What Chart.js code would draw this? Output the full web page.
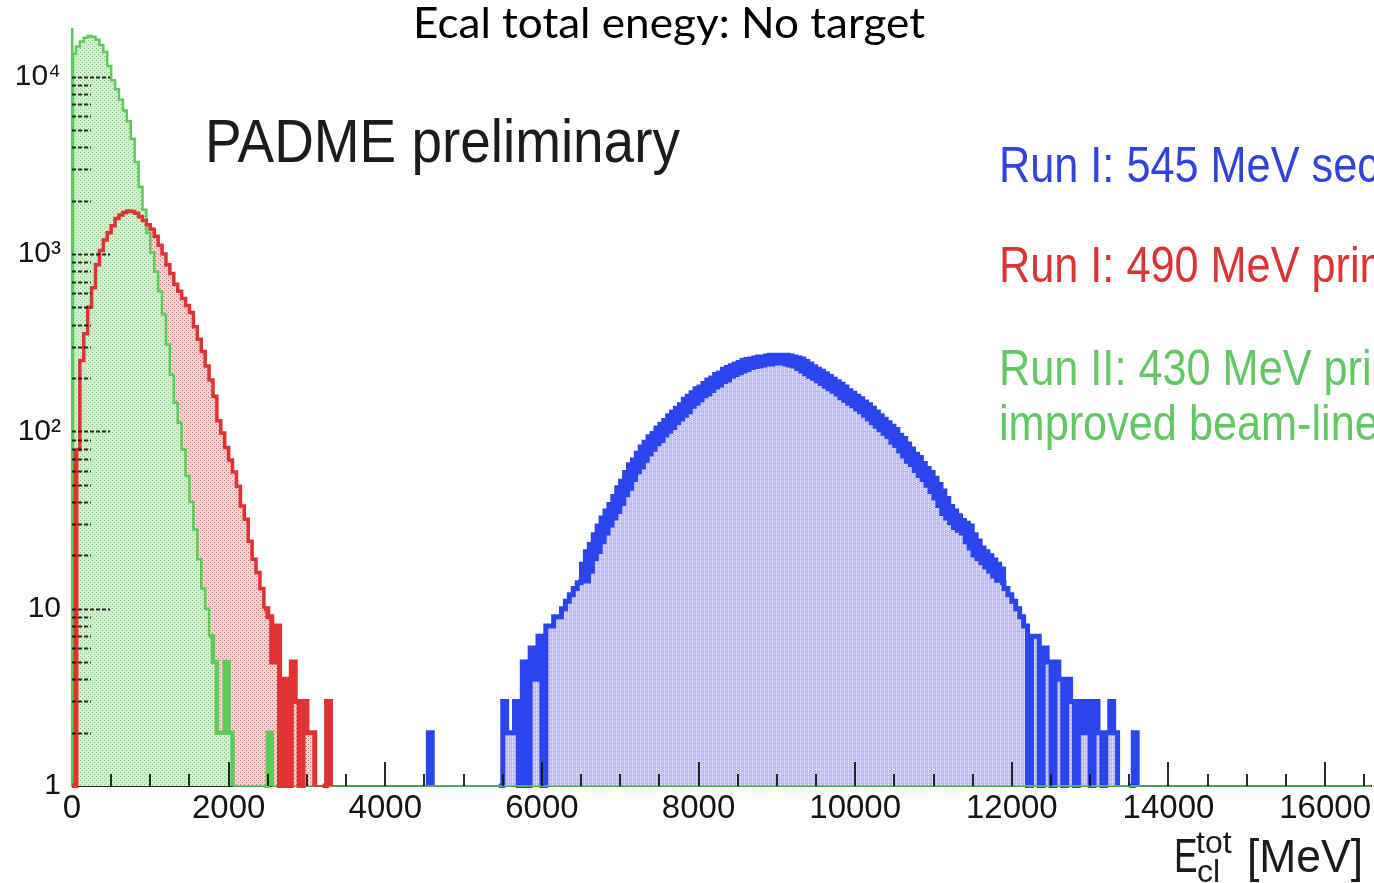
<!DOCTYPE html>
<html>
<head>
<meta charset="utf-8">
<script src="https://cdn.jsdelivr.net/npm/chart.js@4.4.1/dist/chart.umd.min.js"></script>
<style>
  html, body { margin: 0; padding: 0; background: #ffffff; }
  #wrap { width: 1374px; height: 883px; position: relative; }
  canvas { display: block; }
</style>
</head>
<body>
<div id="wrap"><canvas id="c" width="1374" height="883"></canvas></div>
<script>
// ---------------- data ----------------
const BIN_WIDTH = 50;          // MeV per bin
const X_MIN = 0, X_MAX = 16590;
const Y_MIN = 1, Y_MAX = 18600;

// Run II: 430 MeV primary (green), bins start at 0 MeV
const greenStart = 0;
const greenCounts = [
  13500,14800,15800,16600,17000,16800,16200,15100,13800,11500,
  9550,8510,7410,6460,5620,4470,3310,2400,1780,1320,
  1020,794,617,457,309,209,145,112,79,56,
  40,28,19,13,10,7,5,2,2,5,
  2,0,0,0,0,0,0,0,0,0,
  2
];

// Run I: 490 MeV primary (red), bins start at 0 MeV
const redStart = 0;
const redCounts = [
  0,79,251,355,501,646,871,1047,1202,1318,
  1445,1585,1660,1718,1750,1738,1700,1622,1549,1462,
  1380,1259,1122,1000,871,776,676,617,562,513,
  468,389,331,282,234,195,158,115,98,81,
  69,59,49,38,32,24,19,16,13,10,
  9,5,8,0,4,0,5,3,0,3,
  2,2,0,0,0,3
];

// Run I: 545 MeV secondary (blue), bins start at 4550 MeV
const blueStart = 4550;
const blueCounts = [
  2,
  0,0,0,0,0,0,0,0,0,0,0,0,0,0,0,0,0,0,
  3,2,2,3,0,5,0,6,4,7,
  0,8,8,9,9,10,11,12,13,14,
  15,17,20,22,25,28,31,34,37,41,
  46,50,56,62,66,72,78,83,89,93,
  100,105,110,117,123,129,135,145,151,158,
  166,170,178,186,191,200,204,214,219,224,
  229,234,240,243,245,248,251,251,254,257,
  257,257,254,251,248,245,237,229,221,214,
  209,202,195,188,182,176,170,162,157,151,
  146,140,135,129,123,117,112,107,102,98,
  91,87,81,76,71,68,63,59,56,52,
  48,44,40,36,34,32,30,29,28,25,
  23,21,20,19,18,17,16,14,13,12,
  11,10,9,8,0,7,7,0,6,5,
  0,5,4,0,4,3,0,3,2,3,
  0,3,2,0,2,3,2,0,0,0,
  0,2
];

const xTickValues = [0,2000,4000,6000,8000,10000,12000,14000,16000];
const xTickLabels = ['0','2000','4000','6000','8000','10000','12000','14000','16000'];
const yTickValues = [1,10,100,1000,10000];
const yTickLabels = ['1','10','10²','10³','10⁴'];

const titleText = 'Ecal total enegy: No target';
const noteText = 'PADME preliminary';
const legendLabels = ['Run I: 545 MeV sec', 'Run I: 490 MeV prim', 'Run II: 430 MeV prim', 'improved beam-line'];
const legendColors = ['#3043dc', '#dc3434', '#62c962', '#62c962'];

// ---------------- helpers ----------------
function histPoints(start, counts, extendTo) {
  const pts = [{x: start, y: Y_MIN}];
  counts.forEach((c, i) => pts.push({x: start + i * BIN_WIDTH, y: Math.max(c, Y_MIN)}));
  const end = start + counts.length * BIN_WIDTH;
  pts.push({x: end, y: Y_MIN});
  if (extendTo !== undefined) pts.push({x: extendTo, y: Y_MIN});
  return pts;
}

const canvas = document.getElementById('c');
const mainCtx = canvas.getContext('2d');
function makePattern(bg, dot, dots) {
  const t = document.createElement('canvas');
  t.width = 4; t.height = 4;
  const g = t.getContext('2d');
  g.fillStyle = bg; g.fillRect(0, 0, 4, 4);
  g.fillStyle = dot;
  dots.forEach(p => g.fillRect(p[0], p[1], 1, 1));
  return mainCtx.createPattern(t, 'repeat');
}
const greenFill = makePattern('#d0efcc', '#7ccf78', [[0,0],[2,2]]);
const redFill = makePattern('#f7d0d0', '#e06666', [[0,0],[2,2]]);
const blueFill = makePattern('#bdb9f1', '#f2f2ff', [[0,0],[0,2],[2,1]]);

const GREEN = '#5ccb5a', RED = '#e03232', BLUE = '#2b45ee';
const CLIP = {left: 0, top: 0, right: 0, bottom: 2};

const greenPts = histPoints(greenStart, greenCounts, X_MAX);
const redPts = histPoints(redStart, redCounts);
const bluePts = histPoints(blueStart, blueCounts);

function drawText(ctx, str, x, baseline, size, family, color, sx, sy) {
  ctx.save();
  ctx.font = size + 'px ' + family;
  ctx.fillStyle = color;
  ctx.textAlign = 'left';
  ctx.textBaseline = 'alphabetic';
  ctx.translate(x, baseline);
  ctx.scale(sx, sy);
  ctx.fillText(str, 0, 0);
  ctx.restore();
}
function fitScale(ctx, str, size, family, width) {
  ctx.save();
  ctx.font = size + 'px ' + family;
  const w = ctx.measureText(str).width;
  ctx.restore();
  return width / w;
}

// inward ROOT-style ticks
const tickPlugin = {
  id: 'rootTicks',
  afterDatasetsDraw(chart) {
    const ctx = chart.ctx;
    const xs = chart.scales.x, ys = chart.scales.y;
    const area = chart.chartArea;
    ctx.save();
    ctx.beginPath();
    ctx.rect(area.left, area.top - 2, area.right - area.left, area.bottom - area.top + 4);
    ctx.clip();
    ctx.strokeStyle = 'rgba(20,20,20,0.9)';
    ctx.lineWidth = 2;
    ctx.setLineDash([4, 2]);
    for (let k = 0; k <= 4; k++) {
      for (let m = 1; m <= 9; m++) {
        const v = m * Math.pow(10, k);
        if (v > Y_MAX || v <= Y_MIN) continue;
        const y = Math.round(ys.getPixelForValue(v)) + 0.5;
        const len = m === 1 ? 38 : 19;
        ctx.beginPath();
        ctx.moveTo(area.left, y);
        ctx.lineTo(area.left + len, y);
        ctx.stroke();
      }
    }
    ctx.setLineDash([]);
    for (let v = 500; v <= X_MAX; v += 500) {
      const x = Math.round(xs.getPixelForValue(v));
      const len = v % 2000 === 0 ? 24 : 12;
      ctx.beginPath();
      ctx.moveTo(x, area.bottom);
      ctx.lineTo(x, area.bottom - len);
      ctx.stroke();
    }
    ctx.restore();
  }
};

const textPlugin = {
  id: 'texts',
  afterDraw(chart) {
    const ctx = chart.ctx;
    const ts = fitScale(ctx, titleText, 42, 'Lato', 512);
    drawText(ctx, titleText, 413, 38, 42, 'Lato', '#000000', ts, 1);
    const fam = '"Liberation Sans", Arial, sans-serif';
    drawText(ctx, noteText, 205, 162, 61, fam, '#1c1c1c', 0.9, 1);
    const baselines = [182, 282, 385, 440];
    legendLabels.forEach((s, i) => {
      drawText(ctx, s, 999, baselines[i], 50, fam, legendColors[i], 0.865, 1);
    });
    drawText(ctx, 'E', 1174, 872, 49, fam, '#1c1c1c', 0.72, 1);
    drawText(ctx, 'tot', 1196, 853, 32, fam, '#1c1c1c', 1, 1);
    drawText(ctx, 'cl', 1197, 882, 32, fam, '#1c1c1c', 1, 1);
    const ms = fitScale(ctx, '[MeV]', 46, fam, 116);
    drawText(ctx, '[MeV]', 1247, 872, 46, fam, '#1c1c1c', ms, 1);
  }
};

// thicker outline where the original histogram is a dense noisy band
const segWidth = (wide, low, lowLimit) => (c) => {
  const a = c.p0.parsed.y, b = c.p1.parsed.y;
  if (a <= Y_MIN && b <= Y_MIN) return 1.5;
  return a >= lowLimit ? wide : low;
};

new Chart(canvas, {
  type: 'line',
  data: {
    datasets: [
      { label: 'Run I: 490 MeV primary line', data: redPts, order: 0, fill: false,
        borderColor: RED, borderWidth: 3.5, segment: { borderWidth: segWidth(3.5, 5, 12) },
        stepped: true, pointRadius: 0, clip: CLIP },
      { label: 'Run II: 430 MeV primary line', data: greenPts, order: 1, fill: false,
        borderColor: GREEN, borderWidth: 2.5, segment: { borderWidth: segWidth(2.5, 4.5, 8) },
        stepped: true, pointRadius: 0, clip: CLIP },
      { label: 'Run II: 430 MeV primary fill', data: greenPts, order: 2, fill: 'start',
        backgroundColor: greenFill, borderColor: 'rgba(0,0,0,0)', borderWidth: 0,
        stepped: true, pointRadius: 0, clip: CLIP },
      { label: 'Run I: 490 MeV primary fill', data: redPts, order: 3, fill: 'start',
        backgroundColor: redFill, borderColor: 'rgba(0,0,0,0)', borderWidth: 0,
        stepped: true, pointRadius: 0, clip: CLIP },
      { label: 'Run I: 545 MeV secondary', data: bluePts, order: 4, fill: 'start',
        backgroundColor: blueFill, borderColor: BLUE, borderWidth: 3,
        segment: { borderWidth: segWidth(12, 5, 15) },
        stepped: true, pointRadius: 0, clip: CLIP }
    ]
  },
  options: {
    responsive: false,
    devicePixelRatio: 1,
    animation: false,
    events: [],
    layout: { padding: { top: 8, right: 0, left: 0, bottom: 0 } },
    plugins: { legend: { display: false }, tooltip: { enabled: false }, title: { display: false } },
    scales: {
      x: {
        type: 'linear', min: X_MIN, max: X_MAX,
        grid: { display: false, drawTicks: false },
        border: { display: true, color: '#222222', width: 2 },
        afterBuildTicks: (s) => { s.ticks = xTickValues.map(v => ({ value: v })); },
        afterFit: (s) => { s.height = 97; },
        ticks: {
          autoSkip: false, maxRotation: 0, padding: 3, color: '#151515',
          font: { family: '"Liberation Sans", Arial, sans-serif', size: 33 },
          callback: (v) => { const i = xTickValues.indexOf(v); return i >= 0 ? xTickLabels[i] : ''; }
        }
      },
      y: {
        type: 'logarithmic', min: Y_MIN, max: Y_MAX,
        grid: { display: false, drawTicks: false },
        border: { display: true, color: GREEN, width: 2.5 },
        afterBuildTicks: (s) => { s.ticks = yTickValues.map(v => ({ value: v })); },
        afterFit: (s) => { s.width = 72; },
        ticks: {
          autoSkip: false, padding: 11, color: '#151515',
          font: { family: '"Liberation Sans", Arial, sans-serif', size: 30 },
          callback: (v) => { const i = yTickValues.indexOf(v); return i >= 0 ? yTickLabels[i] : ''; }
        }
      }
    }
  },
  plugins: [tickPlugin, textPlugin]
});
</script>
</body>
</html>
